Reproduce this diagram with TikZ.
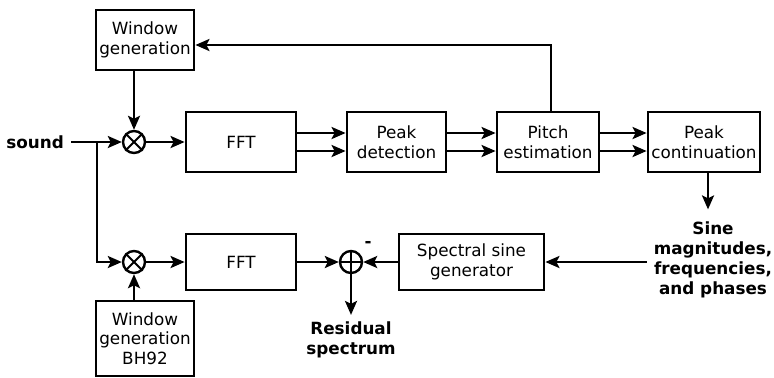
\documentclass[tikz,border=0pt]{standalone}
\usepackage{fontspec}
\setmainfont{DejaVu Sans}
\usetikzlibrary{arrows.meta,positioning,calc}

\begin{document}
\begin{tikzpicture}[
    x=0.5pt, y=-0.5pt,
    font=\fontsize{8.4}{9.8}\selectfont,
    block/.style={rectangle, draw, line width=1.4pt, align=center, inner sep=1pt, minimum width=49pt, minimum height=30pt},
    mixer/.style={circle, draw, line width=1.2pt, minimum size=11pt, inner sep=0pt},
    sig/.style={font=\fontsize{8.4}{9.9}\selectfont\bfseries, align=center},
    arrow/.style={-{Stealth[length=7pt,width=6pt,inset=1.5pt]}, line width=1.3pt},
    wire/.style={line width=1.3pt},
]
    \useasboundingbox (0,0) rectangle (774,377);
    % analysis branch
    \node[block] (win) at (145,40) {Window\\generation};
    \node[mixer] (mul1) at (134,142) {};
    \node[block, minimum width=55pt] (fft1) at (241,142) {FFT};
    \node[block, minimum width=49.5pt] (peak) at (396.5,142) {Peak\\detection};
    \node[block, minimum width=51pt] (pitch) at (548,142) {Pitch\\estimation};
    \node[block, minimum width=56pt] (cont) at (704,142) {Peak\\continuation};
    \node[sig, anchor=east] (sound) at (71,142) {sound};
    \coordinate (split) at (97,142);
    % residual branch
    \node[mixer] (mul2) at (134,262) {};
    \node[block, minimum width=55pt, minimum height=28pt] (fft2) at (241,262) {FFT};
    \node[mixer] (sum) at (351,262) {};
    \node[block, minimum width=72.5pt, minimum height=28pt] (gen) at (471.5,262) {Spectral sine\\generator};
    \node[block, minimum height=37.5pt] (winb) at (145,338.5) {Window\\generation\\BH92};
    \node[sig] (sine) at (713,260) {Sine\\magnitudes,\\frequencies,\\and phases};
    \node[sig] (resid) at (351,340) {Residual\\spectrum};
    \node[sig] (minus) at (368,244) {-};

    \draw[line width=1pt] (mul1.north west) -- (mul1.south east) (mul1.north east) -- (mul1.south west);
    \draw[line width=1pt] (mul2.north west) -- (mul2.south east) (mul2.north east) -- (mul2.south west);
    \draw[line width=1pt] (sum.north) -- (sum.south) (sum.west) -- (sum.east);

    \draw[wire] (sound.east) -- (split);
    \draw[arrow] (split) -- (mul1.west);
    \draw[arrow] (split) |- (mul2.west);
    \draw[arrow] (win.south -| mul1.north) -- (mul1.north);
    \draw[arrow] (winb.north -| mul2.south) -- (mul2.south);
    \draw[arrow] (mul1.east) -- (fft1.west);
    \draw[arrow] (mul2.east) -- (fft2.west);
    \foreach \a/\b in {fft1/peak, peak/pitch, pitch/cont}
        \foreach \d in {4.5pt,-4.5pt}
            \draw[arrow] ([yshift=\d]\a.east) -- ([yshift=\d]\b.west);
    \draw[arrow] ([xshift=1.5pt]pitch.north) |- ([yshift=-2.5pt]win.east);
    \draw[arrow] ([xshift=2pt]cont.south) -- ++(0,36);
    \draw[arrow] (sine.west |- gen.east) -- (gen.east);
    \draw[arrow] (gen.west) -- (sum.east);
    \draw[arrow] (fft2.east) -- (sum.west);
    \draw[arrow] (sum.south) -- (resid.north);
\end{tikzpicture}
\end{document}
